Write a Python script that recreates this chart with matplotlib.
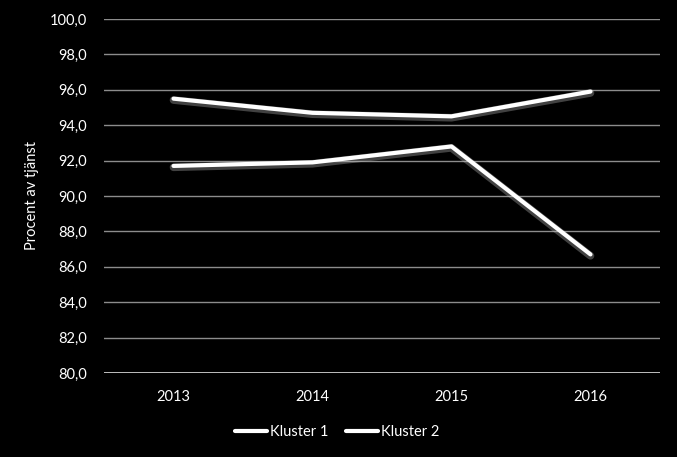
import matplotlib.pyplot as plt
import matplotlib.patheffects as pe
from matplotlib.ticker import FuncFormatter

years = ["2013", "2014", "2015", "2016"]
kluster1 = [91.7, 91.9, 92.8, 86.7]
kluster2 = [95.5, 94.7, 94.5, 95.9]

plt.rcParams['font.family'] = ['Lato', 'DejaVu Sans']

fig = plt.figure(figsize=(6.77, 4.57), dpi=100, facecolor='black')
ax = fig.add_axes([104/677, 1-373/457, 556/677, 354/457])
ax.set_facecolor('black')

x = range(len(years))
glow = [pe.SimpleLineShadow(offset=(0, -1), shadow_color='#bbbbbb', alpha=0.35, linewidth=5.5), pe.Normal()]
ax.plot(x, kluster1, color='white', lw=3, solid_capstyle='round', label='Kluster 1', path_effects=glow)
ax.plot(x, kluster2, color='white', lw=3, solid_capstyle='round', label='Kluster 2', path_effects=glow)

ax.set_xlim(-0.5, 3.5)
ax.set_ylim(80, 100)
ax.set_yticks(range(80, 101, 2))
ax.yaxis.set_major_formatter(FuncFormatter(lambda v, p: f"{v:.1f}".replace('.', ',')))
ax.set_xticks(list(x))
ax.set_xticklabels(years)
ax.grid(axis='y', color='#8c8c8c', lw=1)
ax.set_axisbelow(True)
for s in ax.spines.values():
    s.set_visible(False)
ax.tick_params(colors='white', labelsize=10.5, length=0, pad=12)
ax.tick_params(axis='x', pad=12)
ax.axhline(80, color='#d9d9d9', lw=1.2)

ax.set_ylabel("Procent av tjänst", color='white', fontsize=10.5, labelpad=8)

leg = ax.legend(loc='upper center', bbox_to_anchor=(0.42, -0.11), ncol=2, frameon=False,
                fontsize=10.5, handlelength=2.2, handletextpad=0.2, columnspacing=1.2)
for t in leg.get_texts():
    t.set_color('white')
for h in leg.get_lines():
    h.set_path_effects([])

fig.savefig("out.png", dpi=100, facecolor='black')
